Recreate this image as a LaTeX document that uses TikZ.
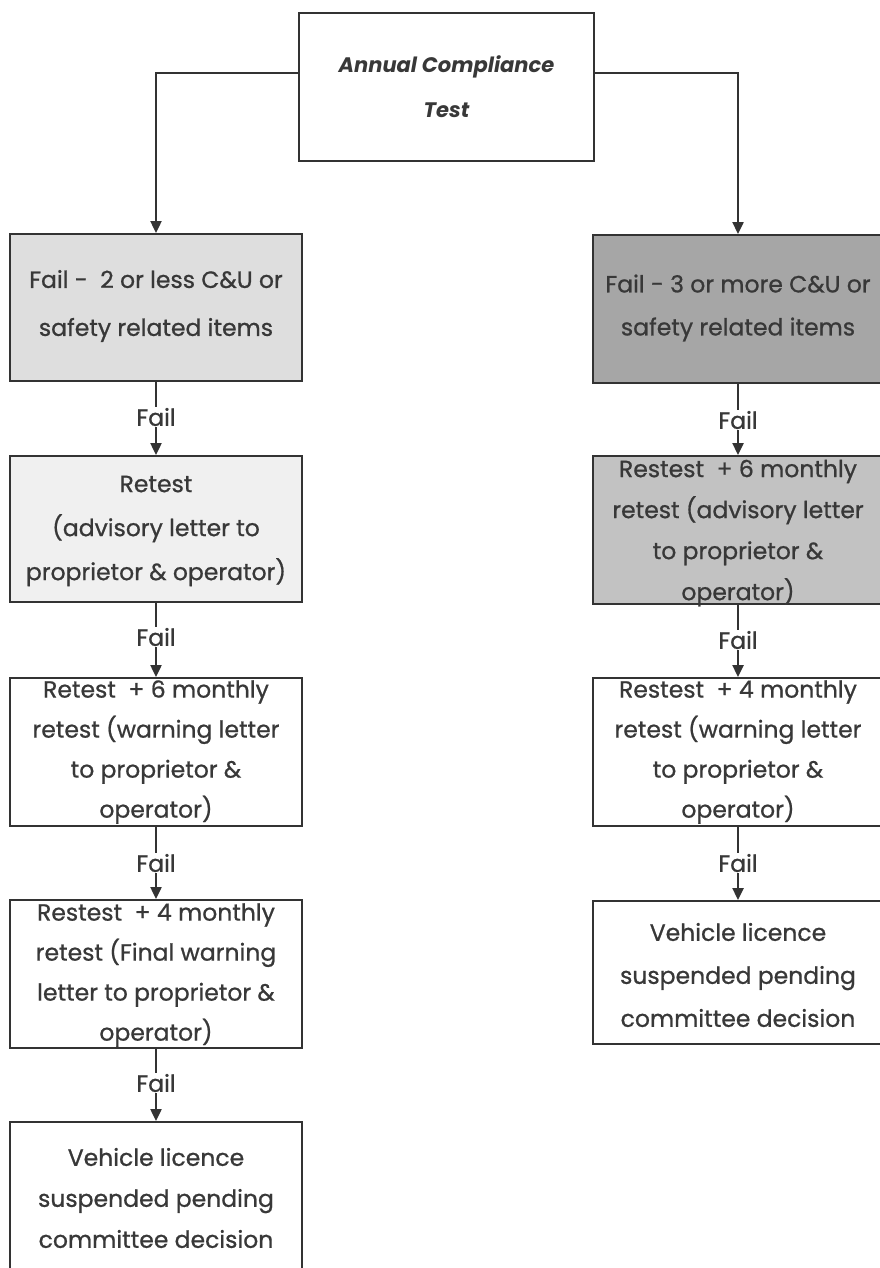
\documentclass[tikz,border=0pt]{standalone}
\usepackage{fontspec}
\setmainfont{Poppins}
\newfontfamily\bodyfont{Poppins}[FakeBold=0.8]
\usetikzlibrary{arrows.meta}
\begin{document}
\begin{tikzpicture}[x=1pt,y=-1pt,
  box/.style={draw=black!80, line width=2.4pt, minimum width=290pt, inner sep=0pt, anchor=north},
  txt/.style={align=center, text=black!78, inner sep=0pt},
  faillbl/.style={text=black!78, font=\bodyfont\fontsize{23.5}{26}\selectfont, inner sep=1pt},
  conn/.style={draw=black!80, line width=2.4pt},
  arr/.style={conn, -{Triangle[width=11pt,length=12pt]}}]
\useasboundingbox (0,0) rectangle (880,1268);
\clip (0,0) rectangle (880,1268);
\fill[white] (0,0) rectangle (880,1268);

% top
\node[box, minimum width=295pt, minimum height=148pt] (top) at (446.5,12) {};
\node[txt, font=\fontsize{21}{45}\selectfont\bfseries\itshape] (ttop) at (446.5,87) {Annual Compliance\\Test};

% left column
\node[box, fill=black!13, minimum width=292pt, minimum height=147pt] (L1) at (156,233) {};
\node[txt, font=\bodyfont\fontsize{23.5}{48}\selectfont] (tL1) at (156,306) {Fail -\ \ 2 or less C\&U or\\safety related items};
\node[faillbl] (f1) at (156,417) {Fail};
\node[box, fill=black!6, minimum width=292pt, minimum height=146pt] (L2) at (156,455) {};
\node[txt, font=\bodyfont\fontsize{23.5}{44}\selectfont] (tL2) at (156,531) {Retest\\(advisory letter to\\proprietor \& operator)};
\node[faillbl] (f2) at (156,637) {Fail};
\node[box, minimum width=292pt, minimum height=148pt] (L3) at (156,677) {};
\node[txt, font=\bodyfont\fontsize{23.5}{40}\selectfont] (tL3) at (156,752) {Retest\ \ + 6 monthly\\retest (warning letter\\to proprietor \&\\operator)};
\node[faillbl] (f3) at (156,863) {Fail};
\node[box, minimum width=292pt, minimum height=148pt] (L4) at (156,899) {};
\node[txt, font=\bodyfont\fontsize{23.5}{40}\selectfont] (tL4) at (156,975) {Restest\ \ + 4 monthly\\retest (Final warning\\letter to proprietor \&\\operator)};
\node[faillbl] (f4) at (156,1083) {Fail};
\node[box, minimum width=292pt, minimum height=175pt] (L5) at (156,1121) {};
\node[txt, font=\bodyfont\fontsize{23.5}{41}\selectfont] (tL5) at (156,1198) {Vehicle licence\\suspended pending\\committee decision};

% right column
\node[box, fill=black!35, minimum height=148pt] (R1) at (738,234) {};
\node[txt, font=\bodyfont\fontsize{23.5}{43}\selectfont] (tR1) at (738,308) {Fail - 3 or more C\&U or\\safety related items};
\node[faillbl] (g1) at (738,420) {Fail};
\node[box, fill=black!24, minimum height=148pt] (R2) at (738,455) {};
\node[txt, font=\bodyfont\fontsize{23.5}{41}\selectfont] (tR2) at (738,533) {Restest\ \ + 6 monthly\\retest (advisory letter\\to proprietor \&\\operator)};
\node[faillbl] (g2) at (738,640) {Fail};
\node[box, minimum height=148pt] (R3) at (738,677) {};
\node[txt, font=\bodyfont\fontsize{23.5}{40}\selectfont] (tR3) at (738,752) {Restest\ \ + 4 monthly\\retest (warning letter\\to proprietor \&\\operator)};
\node[faillbl] (g3) at (738,863) {Fail};
\node[box, minimum height=143pt] (R4) at (738,900) {};
\node[txt, font=\bodyfont\fontsize{23.5}{43}\selectfont] (tR4) at (738,975) {Vehicle licence\\suspended pending\\committee decision};

% connectors
\draw[arr] ([yshift=14pt]top.west) -| (L1.north);
\draw[arr] ([yshift=14pt]top.east) -| (R1.north);
\draw[conn] (L1) -- (f1); \draw[arr] (f1) -- (L2);
\draw[conn] (L2) -- (f2); \draw[arr] (f2) -- (L3);
\draw[conn] (L3) -- (f3); \draw[arr] (f3) -- (L4);
\draw[conn] (L4) -- (f4); \draw[arr] (f4) -- (L5);
\draw[conn] (R1) -- (g1); \draw[arr] (g1) -- (R2);
\draw[conn] (R2) -- (g2); \draw[arr] (g2) -- (R3);
\draw[conn] (R3) -- (g3); \draw[arr] (g3) -- (R4);
\end{tikzpicture}
\end{document}
